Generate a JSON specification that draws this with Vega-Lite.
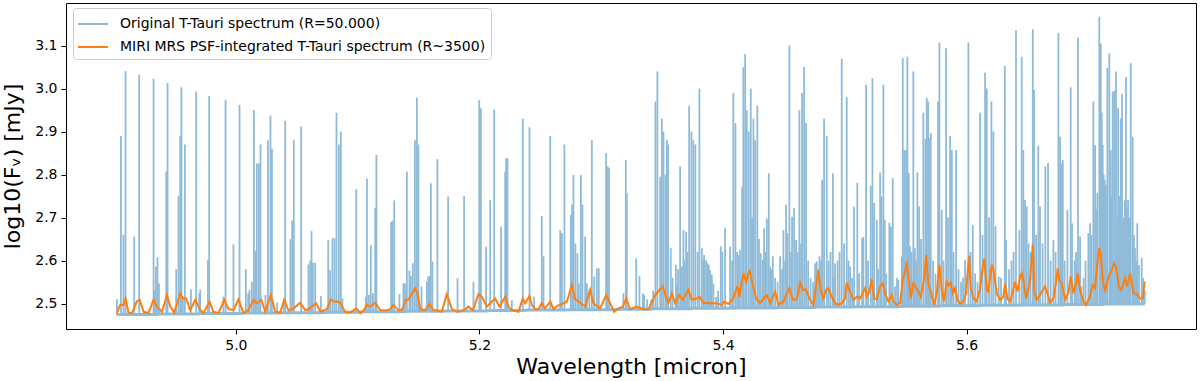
{
  "$schema": "https://vega.github.io/schema/vega-lite/v6.json",
  "width": 1130,
  "height": 326,
  "autosize": {"type": "none"},
  "padding": {"left": 66, "top": 3, "right": 4, "bottom": 52},
  "background": "white",
  "config": {
    "view": {"stroke": "black", "strokeWidth": 1},
    "font": "DejaVu Sans",
    "axis": {"grid": false, "domain": false, "tickColor": "black", "tickSize": 5, "labelColor": "black", "titleColor": "black", "labelFont": "DejaVu Sans", "titleFont": "DejaVu Sans", "labelFontSize": 14, "titleFontSize": 22, "titleFontWeight": "normal", "labelPadding": 4}
  },
  "datasets": {
    "orig": [
{"w":4.9023,"f":2.51,"b":2.475},{"w":4.9056,"f":2.89,"b":2.475},{"w":4.9077,"f":2.66,"b":2.475},{"w":4.9094,"f":3.041,"b":2.475},{"w":4.9165,"f":2.656,"b":2.475},{"w":4.9206,"f":3.032,"b":2.475},{"w":4.9324,"f":3.023,"b":2.475},{"w":4.9332,"f":2.532,"b":2.475},{"w":4.9343,"f":2.586,"b":2.475},{"w":4.9356,"f":2.608,"b":2.475},{"w":4.9368,"f":2.547,"b":2.476},{"w":4.9428,"f":2.807,"b":2.476},{"w":4.9439,"f":3.013,"b":2.476},{"w":4.951,"f":2.58,"b":2.476},{"w":4.9529,"f":2.75,"b":2.476},{"w":4.9543,"f":2.89,"b":2.476},{"w":4.9553,"f":3.003,"b":2.476},{"w":4.9565,"f":2.516,"b":2.476},{"w":4.9581,"f":2.87,"b":2.476},{"w":4.9631,"f":2.533,"b":2.476},{"w":4.9674,"f":2.993,"b":2.476},{"w":4.9699,"f":2.524,"b":2.476},{"w":4.9707,"f":2.533,"b":2.477},{"w":4.977,"f":2.601,"b":2.477},{"w":4.9781,"f":2.983,"b":2.477},{"w":4.9898,"f":2.516,"b":2.477},{"w":4.9915,"f":2.973,"b":2.477},{"w":4.998,"f":2.638,"b":2.477},{"w":5.003,"f":2.962,"b":2.477},
{"w":5.0082,"f":2.58,"b":2.478},{"w":5.0101,"f":2.524,"b":2.478},{"w":5.0112,"f":2.532,"b":2.478},{"w":5.0131,"f":2.551,"b":2.478},{"w":5.0148,"f":2.95,"b":2.478},{"w":5.0161,"f":2.623,"b":2.478},{"w":5.0172,"f":2.826,"b":2.478},{"w":5.0189,"f":2.826,"b":2.478},{"w":5.0202,"f":2.87,"b":2.478},{"w":5.0243,"f":2.52,"b":2.478},{"w":5.0263,"f":2.88,"b":2.478},{"w":5.0284,"f":2.937,"b":2.478},{"w":5.0296,"f":2.86,"b":2.478},{"w":5.0339,"f":2.502,"b":2.478},{"w":5.0394,"f":2.51,"b":2.479},{"w":5.0405,"f":2.925,"b":2.479},{"w":5.0448,"f":2.65,"b":2.479},{"w":5.0462,"f":2.693,"b":2.479},{"w":5.0476,"f":2.88,"b":2.479},{"w":5.0536,"f":2.912,"b":2.479},{"w":5.0596,"f":2.591,"b":2.479},{"w":5.061,"f":2.6,"b":2.479},{"w":5.0621,"f":2.669,"b":2.479},{"w":5.0632,"f":2.595,"b":2.479},{"w":5.0651,"f":2.595,"b":2.479},{"w":5.0698,"f":2.518,"b":2.479},{"w":5.0758,"f":2.648,"b":2.48},{"w":5.0774,"f":2.578,"b":2.48},{"w":5.0793,"f":2.652,"b":2.48},{"w":5.081,"f":2.652,"b":2.48},{"w":5.0826,"f":2.944,"b":2.48},{"w":5.0846,"f":2.87,"b":2.48},{"w":5.0862,"f":2.9,"b":2.48},{"w":5.0875,"f":2.512,"b":2.48},{"w":5.0988,"f":2.766,"b":2.48},{"w":5.1067,"f":2.516,"b":2.481},{"w":5.1076,"f":2.791,"b":2.481},{"w":5.1092,"f":2.52,"b":2.481},{"w":5.1108,"f":2.636,"b":2.481},{"w":5.1125,"f":2.524,"b":2.481},{"w":5.1144,"f":2.722,"b":2.481},{"w":5.1154,"f":2.846,"b":2.481},{"w":5.1275,"f":2.69,"b":2.481},{"w":5.1286,"f":2.693,"b":2.481},{"w":5.13,"f":2.74,"b":2.481},{"w":5.1343,"f":2.522,"b":2.481},{"w":5.1376,"f":2.547,"b":2.481},{"w":5.1388,"f":2.547,"b":2.481},{"w":5.1404,"f":2.807,"b":2.482},{"w":5.1425,"f":2.577,"b":2.482},{"w":5.1437,"f":2.564,"b":2.482},{"w":5.1453,"f":2.594,"b":2.482},{"w":5.147,"f":2.88,"b":2.482},{"w":5.1486,"f":2.979,"b":2.482},{"w":5.1499,"f":2.87,"b":2.482},{"w":5.1524,"f":2.54,"b":2.482},{"w":5.1568,"f":2.551,"b":2.482},{"w":5.1579,"f":2.563,"b":2.482},{"w":5.159,"f":2.564,"b":2.482},{"w":5.1601,"f":2.78,"b":2.482},{"w":5.1614,"f":2.598,"b":2.482},{"w":5.1655,"f":2.836,"b":2.482},{"w":5.1743,"f":2.749,"b":2.483},{"w":5.182,"f":2.559,"b":2.483},{"w":5.1874,"f":2.75,"b":2.483},{"w":5.1951,"f":2.551,"b":2.483},{"w":5.1998,"f":2.973,"b":2.483},{"w":5.2012,"f":2.954,"b":2.483},{"w":5.2055,"f":2.632,"b":2.483},{"w":5.2088,"f":2.741,"b":2.484},{"w":5.2121,"f":2.951,"b":2.484},{"w":5.2178,"f":2.679,"b":2.484},
{"w":5.2211,"f":2.807,"b":2.484},{"w":5.2219,"f":2.838,"b":2.484},{"w":5.223,"f":2.838,"b":2.484},{"w":5.2266,"f":2.508,"b":2.484},{"w":5.2356,"f":2.93,"b":2.484},{"w":5.2411,"f":2.91,"b":2.485},{"w":5.2449,"f":2.516,"b":2.485},{"w":5.2512,"f":2.704,"b":2.485},{"w":5.2526,"f":2.61,"b":2.485},{"w":5.2581,"f":2.89,"b":2.485},{"w":5.2663,"f":2.671,"b":2.485},{"w":5.2677,"f":2.664,"b":2.485},{"w":5.2698,"f":2.87,"b":2.485},{"w":5.275,"f":2.706,"b":2.486},{"w":5.2761,"f":2.73,"b":2.486},{"w":5.2772,"f":2.799,"b":2.486},{"w":5.2788,"f":2.64,"b":2.486},{"w":5.2805,"f":2.617,"b":2.486},{"w":5.2816,"f":2.547,"b":2.486},{"w":5.2833,"f":2.799,"b":2.486},{"w":5.2846,"f":2.73,"b":2.486},{"w":5.2868,"f":2.656,"b":2.486},{"w":5.2882,"f":2.547,"b":2.486},{"w":5.2903,"f":2.532,"b":2.486},{"w":5.2923,"f":2.88,"b":2.486},{"w":5.2942,"f":2.563,"b":2.486},{"w":5.2964,"f":2.582,"b":2.486},{"w":5.298,"f":2.582,"b":2.486},{"w":5.304,"f":2.85,"b":2.486},{"w":5.3054,"f":2.819,"b":2.486},{"w":5.3065,"f":2.815,"b":2.486},{"w":5.3182,"f":2.524,"b":2.487},{"w":5.3202,"f":2.834,"b":2.487},{"w":5.321,"f":2.757,"b":2.487},{"w":5.3287,"f":2.605,"b":2.487},{"w":5.3314,"f":2.564,"b":2.487},{"w":5.3342,"f":2.524,"b":2.487},{"w":5.3445,"f":2.97,"b":2.488},{"w":5.3461,"f":3.04,"b":2.488},{"w":5.3484,"f":2.795,"b":2.488},{"w":5.3498,"f":2.93,"b":2.488},{"w":5.3511,"f":2.9,"b":2.488},{"w":5.3527,"f":2.8,"b":2.488},{"w":5.3539,"f":2.88,"b":2.488},{"w":5.3549,"f":2.87,"b":2.488},{"w":5.3571,"f":2.629,"b":2.488},{"w":5.3613,"f":2.59,"b":2.488},{"w":5.3621,"f":2.543,"b":2.488},{"w":5.3648,"f":2.819,"b":2.488},{"w":5.3662,"f":2.586,"b":2.488},{"w":5.3675,"f":2.671,"b":2.488},{"w":5.3697,"f":2.667,"b":2.488},{"w":5.3722,"f":2.96,"b":2.488},{"w":5.3741,"f":2.9,"b":2.488},{"w":5.3757,"f":2.88,"b":2.489},{"w":5.3773,"f":2.87,"b":2.489},{"w":5.3806,"f":3.0,"b":2.489},{"w":5.3826,"f":2.629,"b":2.489},{"w":5.3845,"f":2.613,"b":2.489},{"w":5.3861,"f":2.601,"b":2.489},{"w":5.3872,"f":2.594,"b":2.489},{"w":5.3883,"f":2.59,"b":2.489},{"w":5.3894,"f":2.578,"b":2.489},{"w":5.3908,"f":2.567,"b":2.489},{"w":5.3921,"f":2.547,"b":2.489},{"w":5.3943,"f":2.516,"b":2.489},{"w":5.3982,"f":2.633,"b":2.489},{"w":5.3995,"f":2.621,"b":2.489},{"w":5.4017,"f":2.675,"b":2.489},{"w":5.4058,"f":2.633,"b":2.489},{"w":5.4085,"f":2.99,"b":2.489},{"w":5.4102,"f":2.92,"b":2.49},{"w":5.4126,"f":2.613,"b":2.49},{"w":5.414,"f":2.625,"b":2.49},{"w":5.4157,"f":2.772,"b":2.49},{"w":5.4167,"f":3.05,"b":2.49},{"w":5.4182,"f":3.08,"b":2.49},{"w":5.4195,"f":2.95,"b":2.49},{"w":5.4212,"f":2.9,"b":2.49},{"w":5.4228,"f":3.0,"b":2.49},{"w":5.425,"f":2.93,"b":2.49},{"w":5.4264,"f":2.88,"b":2.49},{"w":5.4282,"f":2.96,"b":2.49},{"w":5.431,"f":2.617,"b":2.49},{"w":5.4327,"f":2.602,"b":2.49},{"w":5.4337,"f":2.675,"b":2.49},{"w":5.436,"f":2.698,"b":2.49},{"w":5.4376,"f":2.803,"b":2.49},{"w":5.4387,"f":2.586,"b":2.49},{"w":5.4409,"f":2.61,"b":2.49},{"w":5.4469,"f":2.61,"b":2.491},{"w":5.4496,"f":2.671,"b":2.491},{"w":5.4518,"f":2.73,"b":2.491},{"w":5.4529,"f":2.664,"b":2.491},{"w":5.4545,"f":3.1,"b":2.491},{"w":5.4567,"f":2.702,"b":2.491},{"w":5.4584,"f":2.722,"b":2.491},{"w":5.46,"f":2.648,"b":2.491},{"w":5.4627,"f":2.95,"b":2.491},{"w":5.4649,"f":2.99,"b":2.491},{"w":5.4666,"f":3.05,"b":2.491},{"w":5.4682,"f":2.92,"b":2.491},{"w":5.4756,"f":2.594,"b":2.491},{"w":5.477,"f":2.598,"b":2.492},{"w":5.4792,"f":2.61,"b":2.492},{"w":5.4814,"f":2.788,"b":2.492},{"w":5.483,"f":2.93,"b":2.492},{"w":5.4852,"f":2.89,"b":2.492},{"w":5.4902,"f":2.803,"b":2.492},{"w":5.492,"f":2.594,"b":2.492},{"w":5.4975,"f":3.07,"b":2.492},{"w":5.5016,"f":2.98,"b":2.492},
{"w":5.5044,"f":2.586,"b":2.492},{"w":5.5076,"f":2.726,"b":2.492},{"w":5.5103,"f":2.781,"b":2.493},{"w":5.5142,"f":2.652,"b":2.493},{"w":5.5153,"f":2.655,"b":2.493},{"w":5.5175,"f":3.009,"b":2.493},{"w":5.5213,"f":2.774,"b":2.493},{"w":5.5227,"f":3.024,"b":2.493},{"w":5.5241,"f":2.734,"b":2.493},{"w":5.5263,"f":2.695,"b":2.493},{"w":5.529,"f":2.805,"b":2.493},{"w":5.5301,"f":2.749,"b":2.493},{"w":5.5317,"f":3.009,"b":2.493},{"w":5.5328,"f":2.695,"b":2.493},{"w":5.5366,"f":2.688,"b":2.493},{"w":5.5378,"f":2.679,"b":2.493},{"w":5.5394,"f":2.792,"b":2.493},{"w":5.544,"f":2.555,"b":2.493},{"w":5.5468,"f":2.609,"b":2.494},{"w":5.5476,"f":3.071,"b":2.494},{"w":5.5487,"f":2.857,"b":2.494},{"w":5.5503,"f":2.857,"b":2.494},{"w":5.5514,"f":3.074,"b":2.494},{"w":5.5525,"f":2.804,"b":2.494},{"w":5.5536,"f":2.633,"b":2.494},{"w":5.5563,"f":3.04,"b":2.494},{"w":5.5575,"f":2.629,"b":2.494},{"w":5.5596,"f":2.805,"b":2.494},{"w":5.561,"f":2.726,"b":2.494},{"w":5.5645,"f":2.944,"b":2.494},{"w":5.5662,"f":2.883,"b":2.494},{"w":5.5673,"f":2.978,"b":2.494},{"w":5.5684,"f":2.97,"b":2.494},{"w":5.5695,"f":2.885,"b":2.494},{"w":5.5706,"f":2.897,"b":2.494},{"w":5.5766,"f":2.97,"b":2.494},{"w":5.5777,"f":3.107,"b":2.494},{"w":5.5796,"f":2.718,"b":2.495},{"w":5.5832,"f":3.094,"b":2.495},{"w":5.5865,"f":2.89,"b":2.495},{"w":5.5879,"f":2.857,"b":2.495},{"w":5.5914,"f":2.857,"b":2.495},{"w":5.5988,"f":2.602,"b":2.495},{"w":5.6015,"f":3.107,"b":2.495},{"w":5.6051,"f":2.683,"b":2.495},{"w":5.6111,"f":2.944,"b":2.495},{"w":5.6152,"f":3.037,"b":2.496},{"w":5.6166,"f":3.0,"b":2.496},{"w":5.6204,"f":2.97,"b":2.496},{"w":5.622,"f":2.9,"b":2.496},{"w":5.6264,"f":2.563,"b":2.496},{"w":5.6314,"f":3.053,"b":2.496},{"w":5.6324,"f":2.648,"b":2.496},{"w":5.6406,"f":3.135,"b":2.496},{"w":5.6434,"f":2.671,"b":2.496},{"w":5.6453,"f":3.074,"b":2.496},{"w":5.6466,"f":2.857,"b":2.497},{"w":5.648,"f":2.741,"b":2.497},{"w":5.6494,"f":2.726,"b":2.497},{"w":5.6544,"f":3.138,"b":2.497},{"w":5.6554,"f":2.997,"b":2.497},{"w":5.6589,"f":2.867,"b":2.497},{"w":5.6603,"f":2.726,"b":2.497},{"w":5.6647,"f":2.819,"b":2.497},{"w":5.6669,"f":2.827,"b":2.497},{"w":5.6713,"f":2.648,"b":2.497},{"w":5.6754,"f":3.13,"b":2.497},{"w":5.6768,"f":2.888,"b":2.497},{"w":5.6778,"f":2.826,"b":2.497},{"w":5.679,"f":2.834,"b":2.497},{"w":5.6828,"f":2.718,"b":2.498},{"w":5.6855,"f":3.003,"b":2.498},{"w":5.6866,"f":2.687,"b":2.498},{"w":5.6915,"f":3.119,"b":2.498},{"w":5.6932,"f":2.656,"b":2.498},{"w":5.6943,"f":2.54,"b":2.498},{"w":5.7,"f":2.664,"b":2.498},{"w":5.7014,"f":2.687,"b":2.498},{"w":5.7041,"f":2.97,"b":2.498},{"w":5.7055,"f":2.869,"b":2.498},{"w":5.7074,"f":2.757,"b":2.498},{"w":5.709,"f":3.167,"b":2.498},{"w":5.7102,"f":3.105,"b":2.498},{"w":5.711,"f":2.944,"b":2.498},{"w":5.7118,"f":2.869,"b":2.498},{"w":5.7135,"f":2.788,"b":2.499},{"w":5.7145,"f":2.776,"b":2.499},{"w":5.7156,"f":3.048,"b":2.499},{"w":5.7172,"f":3.082,"b":2.499},{"w":5.7184,"f":2.857,"b":2.499},{"w":5.72,"f":2.993,"b":2.499},{"w":5.7213,"f":2.995,"b":2.499},{"w":5.7227,"f":3.04,"b":2.499},{"w":5.7244,"f":2.954,"b":2.499},{"w":5.7266,"f":2.931,"b":2.499},{"w":5.7277,"f":2.988,"b":2.499},{"w":5.7309,"f":3.027,"b":2.499},{"w":5.7326,"f":2.741,"b":2.499},{"w":5.7348,"f":3.059,"b":2.499},{"w":5.7364,"f":2.888,"b":2.499},{"w":5.7383,"f":2.629,"b":2.499},{"w":5.7402,"f":2.687,"b":2.499},{"w":5.7438,"f":2.606,"b":2.499},{"w":5.7463,"f":2.53,"b":2.499},
{"w":5.3352,"f":2.52,"b":2.487},{"w":5.3377,"f":2.51,"b":2.487},{"w":5.341,"f":2.51,"b":2.487},{"w":5.3426,"f":2.53,"b":2.488},{"w":5.3586,"f":2.56,"b":2.488},{"w":5.3631,"f":2.58,"b":2.488},{"w":5.3685,"f":2.6,"b":2.488},{"w":5.3709,"f":2.62,"b":2.488},{"w":5.3792,"f":2.62,"b":2.489},{"w":5.3837,"f":2.6,"b":2.489},{"w":5.396,"f":2.53,"b":2.489},{"w":5.4075,"f":2.6,"b":2.489},{"w":5.4116,"f":2.62,"b":2.49},{"w":5.4239,"f":2.7,"b":2.49},{"w":5.4296,"f":2.65,"b":2.49},{"w":5.4348,"f":2.62,"b":2.49},{"w":5.4397,"f":2.58,"b":2.49},{"w":5.4428,"f":2.56,"b":2.49},{"w":5.4448,"f":2.55,"b":2.491},{"w":5.4485,"f":2.58,"b":2.491},{"w":5.451,"f":2.6,"b":2.491},{"w":5.4559,"f":2.62,"b":2.491},{"w":5.4613,"f":2.62,"b":2.491},{"w":5.4641,"f":2.64,"b":2.491},{"w":5.4699,"f":2.6,"b":2.491},{"w":5.4719,"f":2.56,"b":2.491},{"w":5.474,"f":2.55,"b":2.491},{"w":5.4781,"f":2.58,"b":2.492},{"w":5.4805,"f":2.6,"b":2.492},{"w":5.4867,"f":2.6,"b":2.492},{"w":5.4883,"f":2.62,"b":2.492},{"w":5.4912,"f":2.56,"b":2.492},{"w":5.4941,"f":2.6,"b":2.492},{"w":5.4957,"f":2.62,"b":2.492},{"w":5.4994,"f":2.64,"b":2.492},{"w":5.5031,"f":2.6,"b":2.492},
{"w":5.506,"f":2.56,"b":2.492},{"w":5.5117,"f":2.57,"b":2.493},{"w":5.5191,"f":2.6,"b":2.493},{"w":5.5273,"f":2.58,"b":2.493},{"w":5.5339,"f":2.57,"b":2.493},{"w":5.5413,"f":2.54,"b":2.493},{"w":5.5429,"f":2.56,"b":2.493},{"w":5.5548,"f":2.62,"b":2.494},{"w":5.5585,"f":2.6,"b":2.494},{"w":5.5626,"f":2.65,"b":2.494},{"w":5.5725,"f":2.6,"b":2.494},{"w":5.5745,"f":2.57,"b":2.494},{"w":5.5811,"f":2.6,"b":2.495},{"w":5.5848,"f":2.7,"b":2.495},{"w":5.5893,"f":2.62,"b":2.495},{"w":5.5934,"f":2.58,"b":2.495},{"w":5.5955,"f":2.55,"b":2.495},{"w":5.5971,"f":2.56,"b":2.495},{"w":5.6033,"f":2.62,"b":2.495},{"w":5.607,"f":2.57,"b":2.495},{"w":5.609,"f":2.55,"b":2.495},{"w":5.6131,"f":2.66,"b":2.496},{"w":5.6185,"f":2.7,"b":2.496},{"w":5.6238,"f":2.68,"b":2.496},{"w":5.6283,"f":2.56,"b":2.496},{"w":5.6349,"f":2.58,"b":2.496},{"w":5.6369,"f":2.6,"b":2.496},{"w":5.6386,"f":2.62,"b":2.496},{"w":5.6509,"f":2.64,"b":2.497},{"w":5.6525,"f":2.62,"b":2.497},{"w":5.6571,"f":2.66,"b":2.497},{"w":5.6624,"f":2.64,"b":2.497},{"w":5.669,"f":2.6,"b":2.497},{"w":5.6731,"f":2.62,"b":2.497},{"w":5.6805,"f":2.6,"b":2.498},{"w":5.6887,"f":2.6,"b":2.498},{"w":5.6899,"f":2.62,"b":2.498},{"w":5.6961,"f":2.56,"b":2.498},{"w":5.6977,"f":2.6,"b":2.498},{"w":5.7026,"f":2.66,"b":2.498},{"w":5.7063,"f":2.72,"b":2.498},{"w":5.7126,"f":2.8,"b":2.498},{"w":5.7192,"f":2.75,"b":2.499},{"w":5.7236,"f":2.7,"b":2.499},{"w":5.7255,"f":2.75,"b":2.499},{"w":5.7289,"f":2.7,"b":2.499},{"w":5.7299,"f":2.74,"b":2.499},{"w":5.7318,"f":2.72,"b":2.499},{"w":5.7337,"f":2.7,"b":2.499},{"w":5.7374,"f":2.66,"b":2.499},{"w":5.7392,"f":2.6,"b":2.499},{"w":5.7416,"f":2.59,"b":2.499},{"w":5.7449,"f":2.56,"b":2.499}
    ],
    "miri": [
{"w":4.9023,"f":2.478},{"w":4.905,"f":2.497},{"w":4.9077,"f":2.497},{"w":4.9094,"f":2.512},{"w":4.9118,"f":2.479},{"w":4.9146,"f":2.478},{"w":4.9187,"f":2.505},{"w":4.9209,"f":2.509},{"w":4.9242,"f":2.481},{"w":4.9283,"f":2.478},{"w":4.9324,"f":2.509},{"w":4.9352,"f":2.493},{"w":4.9393,"f":2.481},{"w":4.9434,"f":2.52},{"w":4.9461,"f":2.493},{"w":4.9494,"f":2.479},{"w":4.9543,"f":2.524},{"w":4.9565,"f":2.512},{"w":4.9592,"f":2.512},{"w":4.9625,"f":2.485},{"w":4.9666,"f":2.509},{"w":4.9707,"f":2.485},{"w":4.9734,"f":2.478},{"w":4.9783,"f":2.505},{"w":4.9816,"f":2.481},{"w":4.9857,"f":2.478},{"w":4.9904,"f":2.509},{"w":4.9939,"f":2.487},{"w":4.998,"f":2.485},{"w":5.0021,"f":2.51},{"w":5.0062,"f":2.478},{"w":5.0104,"f":2.485},{"w":5.0145,"f":2.509},{"w":5.0172,"f":2.501},{"w":5.0208,"f":2.509},{"w":5.0241,"f":2.481},{"w":5.0287,"f":2.52},{"w":5.0323,"f":2.481},{"w":5.0364,"f":2.479},{"w":5.0397,"f":2.509},{"w":5.0432,"f":2.484},{"w":5.0473,"f":2.489},{"w":5.0528,"f":2.502},{"w":5.0569,"f":2.485},{"w":5.0596,"f":2.487},{"w":5.0659,"f":2.501},{"w":5.0692,"f":2.481},{"w":5.0747,"f":2.487},{"w":5.078,"f":2.51},{"w":5.0801,"f":2.505},{"w":5.0834,"f":2.505},{"w":5.0856,"f":2.502},{"w":5.0897,"f":2.481},{"w":5.0939,"f":2.479},{"w":5.0988,"f":2.489},{"w":5.1021,"f":2.478},{"w":5.1053,"f":2.485},{"w":5.1076,"f":2.497},{"w":5.1103,"f":2.493},{"w":5.1144,"f":2.502},{"w":5.1185,"f":2.485},{"w":5.1234,"f":2.484},{"w":5.1267,"f":2.487},{"w":5.1294,"f":2.497},{"w":5.1335,"f":2.485},{"w":5.1363,"f":2.485},{"w":5.1398,"f":2.51},{"w":5.1417,"f":2.509},{"w":5.1472,"f":2.536},{"w":5.1491,"f":2.524},{"w":5.1513,"f":2.487},{"w":5.1554,"f":2.485},{"w":5.159,"f":2.499},{"w":5.1622,"f":2.485},{"w":5.165,"f":2.484},{"w":5.1691,"f":2.481},{"w":5.1732,"f":2.522},{"w":5.1774,"f":2.487},{"w":5.1815,"f":2.481},{"w":5.1869,"f":2.484},{"w":5.191,"f":2.493},{"w":5.1946,"f":2.485},{"w":5.1992,"f":2.522},{"w":5.202,"f":2.516},{"w":5.2061,"f":2.493},{"w":5.2088,"f":2.501},{"w":5.2129,"f":2.512},{"w":5.2164,"f":2.493},
{"w":5.2211,"f":2.516},{"w":5.2238,"f":2.493},{"w":5.2266,"f":2.485},{"w":5.232,"f":2.481},{"w":5.2356,"f":2.512},{"w":5.2375,"f":2.501},{"w":5.2411,"f":2.518},{"w":5.243,"f":2.497},{"w":5.2457,"f":2.487},{"w":5.2484,"f":2.487},{"w":5.2512,"f":2.501},{"w":5.254,"f":2.489},{"w":5.2581,"f":2.505},{"w":5.2608,"f":2.487},{"w":5.264,"f":2.495},{"w":5.2677,"f":2.499},{"w":5.2718,"f":2.505},{"w":5.2759,"f":2.543},{"w":5.2786,"f":2.51},{"w":5.2827,"f":2.502},{"w":5.2868,"f":2.493},{"w":5.2909,"f":2.532},{"w":5.2936,"f":2.501},{"w":5.2991,"f":2.489},{"w":5.304,"f":2.52},{"w":5.3073,"f":2.501},{"w":5.3106,"f":2.481},{"w":5.3141,"f":2.489},{"w":5.3177,"f":2.493},{"w":5.3205,"f":2.512},{"w":5.3237,"f":2.487},{"w":5.3292,"f":2.493},{"w":5.3347,"f":2.487},{"w":5.3388,"f":2.487},{"w":5.3443,"f":2.52},{"w":5.3478,"f":2.532},{"w":5.3506,"f":2.541},{"w":5.353,"f":2.516},{"w":5.3552,"f":2.502},{"w":5.358,"f":2.524},{"w":5.3607,"f":2.501},{"w":5.3642,"f":2.52},{"w":5.367,"f":2.509},{"w":5.3716,"f":2.532},{"w":5.3744,"f":2.509},{"w":5.3785,"f":2.512},{"w":5.3806,"f":2.516},{"w":5.3839,"f":2.502},{"w":5.3894,"f":2.501},{"w":5.3949,"f":2.501},{"w":5.399,"f":2.497},{"w":5.4009,"f":2.505},{"w":5.4044,"f":2.499},{"w":5.4085,"f":2.512},{"w":5.4118,"f":2.541},{"w":5.4135,"f":2.516},{"w":5.4167,"f":2.571},{"w":5.419,"f":2.551},{"w":5.4217,"f":2.578},{"w":5.4245,"f":2.543},{"w":5.4272,"f":2.512},{"w":5.4305,"f":2.501},{"w":5.4332,"f":2.512},{"w":5.436,"f":2.52},{"w":5.4387,"f":2.501},{"w":5.4428,"f":2.528},{"w":5.4455,"f":2.497},{"w":5.4496,"f":2.505},{"w":5.4545,"f":2.536},{"w":5.4573,"f":2.509},{"w":5.4606,"f":2.51},{"w":5.4633,"f":2.549},{"w":5.4655,"f":2.532},{"w":5.4682,"f":2.533},{"w":5.4709,"f":2.512},{"w":5.4742,"f":2.497},{"w":5.4783,"f":2.578},{"w":5.4803,"f":2.532},{"w":5.4824,"f":2.512},{"w":5.4846,"f":2.532},{"w":5.4865,"f":2.536},{"w":5.4893,"f":2.516},{"w":5.492,"f":2.501},{"w":5.4947,"f":2.497},{"w":5.4975,"f":2.501},{"w":5.5003,"f":2.512},{"w":5.5016,"f":2.549},{"w":5.5038,"f":2.532},
{"w":5.5071,"f":2.509},{"w":5.5099,"f":2.516},{"w":5.5126,"f":2.512},{"w":5.5167,"f":2.536},{"w":5.5181,"f":2.516},{"w":5.5202,"f":2.528},{"w":5.5222,"f":2.557},{"w":5.5241,"f":2.512},{"w":5.5263,"f":2.51},{"w":5.529,"f":2.54},{"w":5.5312,"f":2.547},{"w":5.5331,"f":2.524},{"w":5.5358,"f":2.505},{"w":5.5386,"f":2.52},{"w":5.5399,"f":2.505},{"w":5.5427,"f":2.497},{"w":5.5454,"f":2.501},{"w":5.5476,"f":2.555},{"w":5.5495,"f":2.574},{"w":5.5509,"f":2.598},{"w":5.5522,"f":2.563},{"w":5.5542,"f":2.512},{"w":5.5563,"f":2.547},{"w":5.558,"f":2.54},{"w":5.5604,"f":2.528},{"w":5.5624,"f":2.516},{"w":5.5651,"f":2.555},{"w":5.5668,"f":2.613},{"w":5.5686,"f":2.547},{"w":5.5706,"f":2.528},{"w":5.5733,"f":2.497},{"w":5.5755,"f":2.524},{"w":5.5777,"f":2.59},{"w":5.5796,"f":2.532},{"w":5.5815,"f":2.505},{"w":5.5837,"f":2.551},{"w":5.5851,"f":2.543},{"w":5.587,"f":2.549},{"w":5.5887,"f":2.524},{"w":5.5906,"f":2.536},{"w":5.5924,"f":2.509},{"w":5.5947,"f":2.5},{"w":5.5974,"f":2.505},{"w":5.5996,"f":2.524},{"w":5.6007,"f":2.567},{"w":5.602,"f":2.611},{"w":5.6034,"f":2.54},{"w":5.6056,"f":2.512},{"w":5.6084,"f":2.505},{"w":5.6111,"f":2.536},{"w":5.6133,"f":2.586},{"w":5.6146,"f":2.605},{"w":5.6166,"f":2.532},{"w":5.6179,"f":2.528},{"w":5.6207,"f":2.59},{"w":5.622,"f":2.58},{"w":5.6248,"f":2.524},{"w":5.6275,"f":2.509},{"w":5.6302,"f":2.516},{"w":5.6316,"f":2.546},{"w":5.6335,"f":2.512},{"w":5.6357,"f":2.505},{"w":5.6384,"f":2.532},{"w":5.6398,"f":2.551},{"w":5.6417,"f":2.528},{"w":5.6439,"f":2.563},{"w":5.6453,"f":2.571},{"w":5.6466,"f":2.555},{"w":5.6489,"f":2.512},{"w":5.6507,"f":2.532},{"w":5.6521,"f":2.555},{"w":5.6544,"f":2.637},{"w":5.6557,"f":2.528},{"w":5.6576,"f":2.509},{"w":5.6603,"f":2.52},{"w":5.6645,"f":2.54},{"w":5.6663,"f":2.524},{"w":5.6686,"f":2.502},{"w":5.6713,"f":2.512},{"w":5.6735,"f":2.551},{"w":5.6749,"f":2.582},{"w":5.6762,"f":2.555},{"w":5.6782,"f":2.547},{"w":5.6809,"f":2.509},{"w":5.6836,"f":2.524},{"w":5.6855,"f":2.564},{"w":5.6877,"f":2.524},{"w":5.6899,"f":2.547},{"w":5.6913,"f":2.571},{"w":5.6932,"f":2.532},{"w":5.6959,"f":2.505},{"w":5.6981,"f":2.497},{"w":5.7014,"f":2.518},{"w":5.7036,"f":2.543},{"w":5.7055,"f":2.536},{"w":5.7074,"f":2.594},{"w":5.709,"f":2.629},{"w":5.7102,"f":2.613},{"w":5.7118,"f":2.555},{"w":5.7137,"f":2.528},{"w":5.7156,"f":2.551},{"w":5.7172,"f":2.567},{"w":5.7192,"f":2.578},{"w":5.7211,"f":2.594},{"w":5.7227,"f":2.586},{"w":5.725,"f":2.543},{"w":5.7266,"f":2.532},{"w":5.7282,"f":2.54},{"w":5.7301,"f":2.559},{"w":5.732,"f":2.54},{"w":5.7342,"f":2.571},{"w":5.7356,"f":2.547},{"w":5.737,"f":2.524},{"w":5.7397,"f":2.523},{"w":5.7424,"f":2.512},{"w":5.7447,"f":2.512},{"w":5.7463,"f":2.551}
    ]
  },
  "layer": [
    {
      "data": {"name": "orig"},
      "mark": {"type": "rule", "strokeWidth": 1.8},
      "encoding": {
        "x": {"field": "w", "type": "quantitative", "scale": {"domain": [4.8605, 5.7884], "nice": false, "zero": false}, "axis": {"values": [5.0, 5.2, 5.4, 5.6], "format": ".1f", "title": "Wavelength [micron]", "titlePadding": 4}},
        "y": {"field": "f", "type": "quantitative", "scale": {"domain": [2.441, 3.199], "nice": false, "zero": false}, "axis": {"values": [2.5, 2.6, 2.7, 2.8, 2.9, 3.0, 3.1], "format": ".1f", "title": "log10(Fᵥ) [mJy]", "titlePadding": 10}},
        "y2": {"field": "b"},
        "color": {"datum": "Original T-Tauri spectrum (R=50.000)", "type": "nominal",
          "scale": {"domain": ["Original T-Tauri spectrum (R=50.000)", "MIRI MRS PSF-integrated T-Tauri spectrum (R~3500)"], "range": ["#8fbbd9", "#ff7f0e"]},
          "legend": {"orient": "none", "legendX": 7, "legendY": 5, "title": null, "symbolType": "M-1.1,0H1.9", "symbolSize": 400, "symbolStrokeWidth": 2, "labelFontSize": 14, "labelFont": "DejaVu Sans", "labelColor": "black", "labelLimit": 600, "labelOffset": 20, "strokeColor": "#cccccc", "fillColor": "white", "padding": 5, "cornerRadius": 3, "rowPadding": 5}}
      }
    },
    {
      "data": {"name": "orig"},
      "mark": {"type": "line", "strokeWidth": 3},
      "encoding": {
        "x": {"field": "w", "type": "quantitative"},
        "y": {"field": "b", "type": "quantitative"},
        "color": {"datum": "Original T-Tauri spectrum (R=50.000)", "type": "nominal"}
      }
    },
    {
      "data": {"name": "miri"},
      "mark": {"type": "line", "strokeWidth": 2},
      "encoding": {
        "x": {"field": "w", "type": "quantitative"},
        "y": {"field": "f", "type": "quantitative"},
        "color": {"datum": "MIRI MRS PSF-integrated T-Tauri spectrum (R~3500)", "type": "nominal"}
      }
    }
  ]
}
